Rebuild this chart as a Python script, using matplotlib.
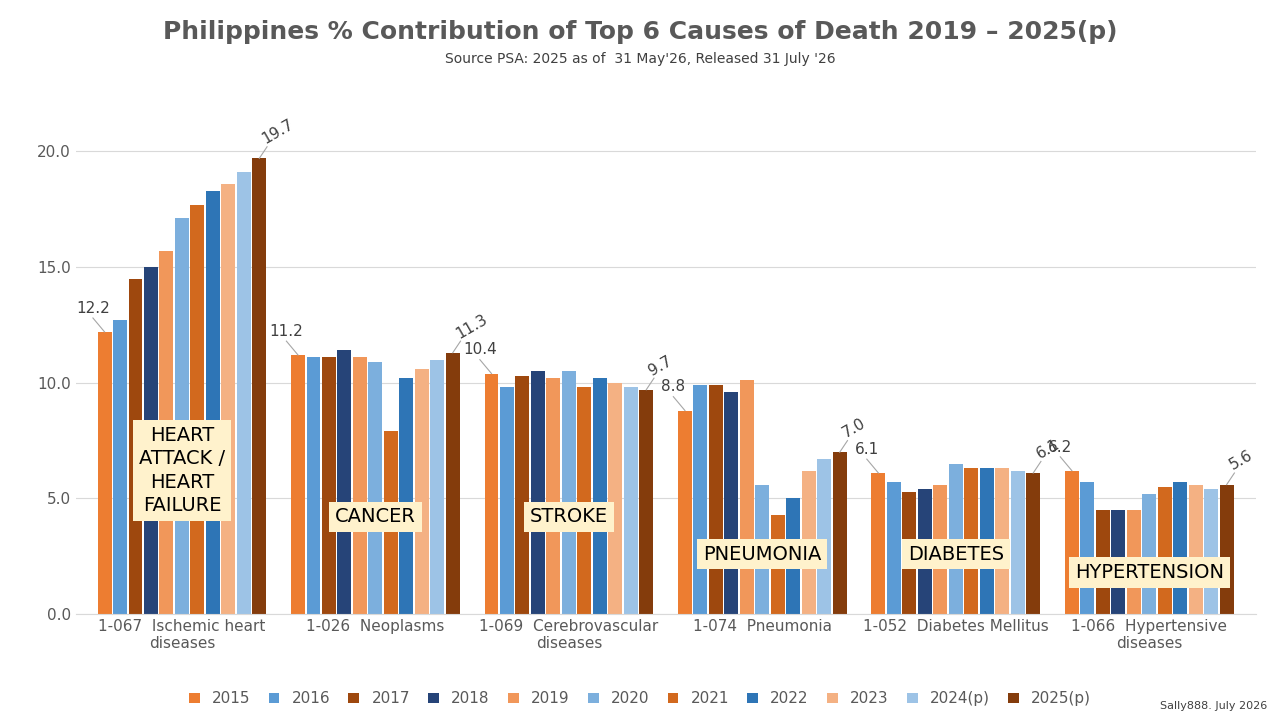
import numpy as np
import matplotlib.pyplot as plt

causes = ["1-067  Ischemic heart\ndiseases", "1-026  Neoplasms", "1-069  Cerebrovascular\ndiseases",
          "1-074  Pneumonia", "1-052  Diabetes Mellitus", "1-066  Hypertensive\ndiseases"]
boxes = ["HEART\nATTACK /\nHEART\nFAILURE", "CANCER", "STROKE", "PNEUMONIA", "DIABETES", "HYPERTENSION"]
box_y = [6.2, 4.2, 4.2, 2.6, 2.6, 1.8]
years = ["2015", "2016", "2017", "2018", "2019", "2020", "2021", "2022", "2023", "2024(p)", "2025(p)"]
colors = ["#ED7D31", "#5B9BD5", "#9E480E", "#264478", "#F1975A", "#7CAFDD",
          "#D2691E", "#2E75B6", "#F4B183", "#9DC3E6", "#843C0C"]
values = [
    [12.2, 12.7, 14.5, 15.0, 15.7, 17.1, 17.7, 18.3, 18.6, 19.1, 19.7],
    [11.2, 11.1, 11.1, 11.4, 11.1, 10.9, 7.9, 10.2, 10.6, 11.0, 11.3],
    [10.4, 9.8, 10.3, 10.5, 10.2, 10.5, 9.8, 10.2, 10.0, 9.8, 9.7],
    [8.8, 9.9, 9.9, 9.6, 10.1, 5.6, 4.3, 5.0, 6.2, 6.7, 7.0],
    [6.1, 5.7, 5.3, 5.4, 5.6, 6.5, 6.3, 6.3, 6.3, 6.2, 6.1],
    [6.2, 5.7, 4.5, 4.5, 4.5, 5.2, 5.5, 5.7, 5.6, 5.4, 5.6],
]
vals = np.array(values)

fig = plt.figure(figsize=(12.8, 7.2), dpi=100)
ax = fig.add_axes([0.059, 0.147, 0.922, 0.707])
x = np.arange(len(causes))
w = 0.08
for j, yr in enumerate(years):
    ax.bar(x + (j - 5) * w, vals[:, j], w * 0.9, color=colors[j], label=yr, zorder=2)

for i in range(len(causes)):
    x0 = x[i] - 5 * w
    v0 = vals[i, 0]
    ax.plot([x0, x0 - 0.06], [v0, v0 + 0.6], color="#A6A6A6", lw=0.8, zorder=3)
    ax.text(x0 - 0.06, v0 + 0.7, f"{v0:.1f}", ha="center", va="bottom", fontsize=11, color="#404040")
    x1 = x[i] + 5 * w
    v1 = vals[i, -1]
    ax.plot([x1, x1 + 0.04], [v1, v1 + 0.5], color="#A6A6A6", lw=0.8, zorder=3)
    ax.text(x1 + 0.04, v1 + 0.5, f"{v1:.1f}", ha="left", va="bottom", fontsize=11,
            color="#404040", rotation=30, rotation_mode="anchor")
    ax.text(x[i], box_y[i], boxes[i], ha="center", va="center", fontsize=14, color="black",
            linespacing=1.3, zorder=4,
            bbox=dict(boxstyle="square,pad=0.3", fc="#FFF2CC", ec="none"))

ax.set_ylim(0, 22)
ax.set_xlim(-0.55, 5.55)
ax.set_yticks([0, 5, 10, 15, 20])
ax.set_yticklabels(["0.0", "5.0", "10.0", "15.0", "20.0"], fontsize=11, color="#595959")
ax.set_xticks(x)
ax.set_xticklabels(causes, fontsize=11, color="#595959")
ax.tick_params(length=0)
ax.grid(axis="y", color="#D9D9D9", lw=0.8, zorder=0)
for s in ["top", "right", "left"]:
    ax.spines[s].set_visible(False)
ax.spines["bottom"].set_color("#D9D9D9")

fig.text(0.5, 0.955, "Philippines % Contribution of Top 6 Causes of Death 2019 \u2013 2025(p)",
         ha="center", va="center", fontsize=18, fontweight="bold", color="#595959")
fig.text(0.5, 0.918, "Source PSA: 2025 as of  31 May'26, Released 31 July '26",
         ha="center", va="center", fontsize=10, color="#404040")
fig.legend(loc="lower center", bbox_to_anchor=(0.5, 0.0), ncol=11, frameon=False,
           fontsize=11, handlelength=0.7, handleheight=0.7, columnspacing=1.2,
           labelcolor="#595959")
fig.text(0.99, 0.012, "Sally888. July 2026", ha="right", va="bottom", fontsize=8, color="#404040")
fig.savefig("out.png")
